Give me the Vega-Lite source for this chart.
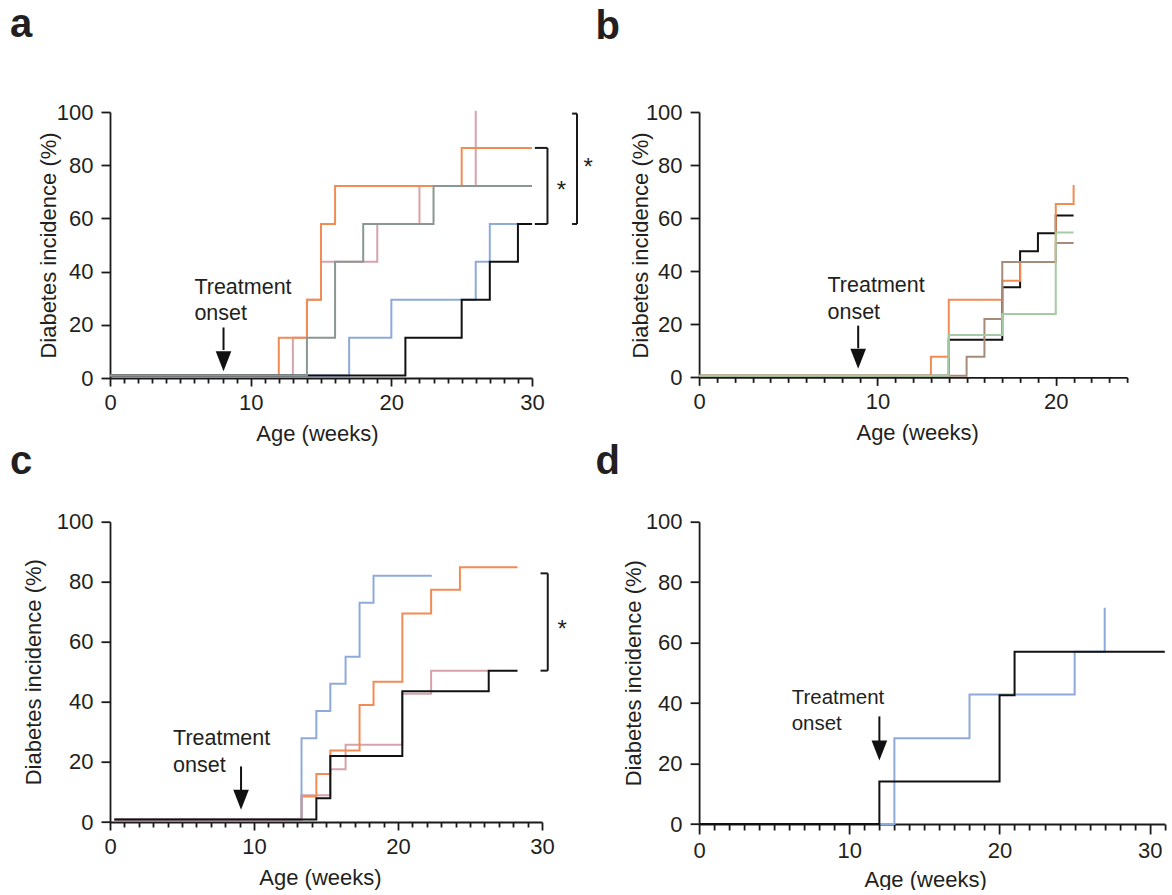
{
"$schema": "https://vega.github.io/schema/vega-lite/v6.json",
"background": "white",
"padding": {"left": 10, "top": 5, "right": 0, "bottom": 0},
"columns": 2,
"align": "each",
"bounds": "flush",
"spacing": {"row": 143.7, "column": 157.1},
"config": {
  "font": "Liberation Sans",
  "view": {"stroke": null},
  "axis": {"domainColor": "#1a1a1a", "domainWidth": 1.8, "tickColor": "#1a1a1a", "tickWidth": 1.8, "labelFont": "Liberation Sans", "labelFontSize": 22, "labelColor": "#231f20", "titleFont": "Liberation Sans", "titleFontSize": 22, "titleFontWeight": "normal", "titleColor": "#231f20", "grid": false, "labelFlush": false, "labelOverlap": false},
  "title": {"font": "Liberation Sans", "fontSize": 40, "fontWeight": "bold", "color": "#231f20", "anchor": "start", "frame": "group", "baseline": "alphabetic"}
},
"datasets": {
  "lines": [
    {"panel":"a","series":"pink","week":0,"pct":0.9},{"panel":"a","series":"pink","week":13,"pct":15.1},{"panel":"a","series":"pink","week":14,"pct":29.4},{"panel":"a","series":"pink","week":15,"pct":43.7},{"panel":"a","series":"pink","week":19,"pct":57.9},{"panel":"a","series":"pink","week":22,"pct":72.2},{"panel":"a","series":"pink","week":26,"pct":100.5},
    {"panel":"a","series":"orange","week":0,"pct":0.9},{"panel":"a","series":"orange","week":12,"pct":15.1},{"panel":"a","series":"orange","week":14,"pct":29.4},{"panel":"a","series":"orange","week":15,"pct":57.9},{"panel":"a","series":"orange","week":16,"pct":72.2},{"panel":"a","series":"orange","week":25,"pct":86.5},{"panel":"a","series":"orange","week":30,"pct":86.5},
    {"panel":"a","series":"blue","week":0,"pct":0.9},{"panel":"a","series":"blue","week":17,"pct":15.1},{"panel":"a","series":"blue","week":20,"pct":29.4},{"panel":"a","series":"blue","week":26,"pct":43.7},{"panel":"a","series":"blue","week":27,"pct":57.9},{"panel":"a","series":"blue","week":29,"pct":57.9},
    {"panel":"a","series":"black","week":0,"pct":0.9},{"panel":"a","series":"black","week":21,"pct":15.1},{"panel":"a","series":"black","week":25,"pct":29.4},{"panel":"a","series":"black","week":27,"pct":43.7},{"panel":"a","series":"black","week":29,"pct":57.9},{"panel":"a","series":"black","week":30,"pct":57.9},
    {"panel":"a","series":"gray","week":0,"pct":0.9},{"panel":"a","series":"gray","week":14,"pct":15.1},{"panel":"a","series":"gray","week":16,"pct":43.7},{"panel":"a","series":"gray","week":18,"pct":57.9},{"panel":"a","series":"gray","week":23,"pct":72.2},{"panel":"a","series":"gray","week":30,"pct":72.2},

    {"panel":"b","series":"black","week":0,"pct":0.6},{"panel":"b","series":"black","week":14,"pct":14.2},{"panel":"b","series":"black","week":17,"pct":34},{"panel":"b","series":"black","week":18,"pct":47.5},{"panel":"b","series":"black","week":19,"pct":54.3},{"panel":"b","series":"black","week":20,"pct":61},{"panel":"b","series":"black","week":21,"pct":61},
    {"panel":"b","series":"orange","week":0,"pct":0.6},{"panel":"b","series":"orange","week":13,"pct":7.8},{"panel":"b","series":"orange","week":14,"pct":29.3},{"panel":"b","series":"orange","week":17,"pct":36.4},{"panel":"b","series":"orange","week":18,"pct":43.5},{"panel":"b","series":"orange","week":20,"pct":65.3},{"panel":"b","series":"orange","week":21,"pct":72.5},
    {"panel":"b","series":"brown","week":0,"pct":0.6},{"panel":"b","series":"brown","week":15,"pct":7.8},{"panel":"b","series":"brown","week":16,"pct":22},{"panel":"b","series":"brown","week":17,"pct":43.5},{"panel":"b","series":"brown","week":20,"pct":50.6},{"panel":"b","series":"brown","week":21,"pct":50.6},
    {"panel":"b","series":"green","week":0,"pct":0.6},{"panel":"b","series":"green","week":14,"pct":16},{"panel":"b","series":"green","week":17,"pct":23.9},{"panel":"b","series":"green","week":20,"pct":54.6},{"panel":"b","series":"green","week":21,"pct":54.6},

    {"panel":"c","series":"pink","week":0.3,"pct":0.8},{"panel":"c","series":"pink","week":13.3,"pct":8.9},{"panel":"c","series":"pink","week":15.3,"pct":17.6},{"panel":"c","series":"pink","week":16.36,"pct":25.7},{"panel":"c","series":"pink","week":20.3,"pct":42.7},{"panel":"c","series":"pink","week":22.3,"pct":50.4},{"panel":"c","series":"pink","week":26.3,"pct":50.4},
    {"panel":"c","series":"orange","week":0.3,"pct":0.8},{"panel":"c","series":"orange","week":13.3,"pct":8.5},{"panel":"c","series":"orange","week":14.33,"pct":16},{"panel":"c","series":"orange","week":15.3,"pct":23.8},{"panel":"c","series":"orange","week":17.33,"pct":39},{"panel":"c","series":"orange","week":18.3,"pct":46.7},{"panel":"c","series":"orange","week":20.3,"pct":69.4},{"panel":"c","series":"orange","week":22.3,"pct":77.3},{"panel":"c","series":"orange","week":24.3,"pct":84.8},{"panel":"c","series":"orange","week":28.3,"pct":84.8},
    {"panel":"c","series":"blue","week":0.3,"pct":0.8},{"panel":"c","series":"blue","week":13.3,"pct":27.9},{"panel":"c","series":"blue","week":14.33,"pct":37},{"panel":"c","series":"blue","week":15.3,"pct":46},{"panel":"c","series":"blue","week":16.36,"pct":55},{"panel":"c","series":"blue","week":17.33,"pct":73},{"panel":"c","series":"blue","week":18.3,"pct":82},{"panel":"c","series":"blue","week":22.35,"pct":82},
    {"panel":"c","series":"black","week":0.3,"pct":0.8},{"panel":"c","series":"black","week":14.33,"pct":7.9},{"panel":"c","series":"black","week":15.3,"pct":22},{"panel":"c","series":"black","week":20.3,"pct":43.5},{"panel":"c","series":"black","week":26.3,"pct":50.4},{"panel":"c","series":"black","week":28.3,"pct":50.4},

    {"panel":"d","series":"blue","week":0,"pct":0},{"panel":"d","series":"blue","week":13,"pct":28.4},{"panel":"d","series":"blue","week":18,"pct":42.8},{"panel":"d","series":"blue","week":25,"pct":57},{"panel":"d","series":"blue","week":27,"pct":71.5},
    {"panel":"d","series":"black","week":0,"pct":0},{"panel":"d","series":"black","week":12,"pct":14.1},{"panel":"d","series":"black","week":20,"pct":42.6},{"panel":"d","series":"black","week":21,"pct":57},{"panel":"d","series":"black","week":31,"pct":57}
  ],
  "brackets": [
    {"panel":"a","week":31.1,"week2":31.1,"pct":57.9,"pct2":86.5},
    {"panel":"a","week":30.2,"week2":31.1,"pct":86.5,"pct2":86.5},
    {"panel":"a","week":30.2,"week2":31.1,"pct":57.9,"pct2":57.9},
    {"panel":"a","week":33.2,"week2":33.2,"pct":57.9,"pct2":99.4},
    {"panel":"a","week":32.85,"week2":33.2,"pct":99.4,"pct2":99.4},
    {"panel":"a","week":32.85,"week2":33.2,"pct":57.9,"pct2":57.9},
    {"panel":"c","week":30.4,"week2":30.4,"pct":50.4,"pct2":82.8},
    {"panel":"c","week":29.9,"week2":30.4,"pct":82.8,"pct2":82.8},
    {"panel":"c","week":29.9,"week2":30.4,"pct":50.4,"pct2":50.4}
  ],
  "stars": [
    {"panel":"a","week":32.1,"pct":67.5,"label":"*"},
    {"panel":"a","week":34.0,"pct":76.4,"label":"*"},
    {"panel":"c","week":31.4,"pct":61.7,"label":"*"}
  ],
  "notes": [
    {"panel":"a","week":6.0,"pct":31.6,"label":"Treatment"},
    {"panel":"a","week":6.0,"pct":21.7,"label":"onset"},
    {"panel":"b","week":7.2,"pct":32.2,"label":"Treatment"},
    {"panel":"b","week":7.2,"pct":22.1,"label":"onset"},
    {"panel":"c","week":4.38,"pct":25.7,"label":"Treatment"},
    {"panel":"c","week":4.38,"pct":16.8,"label":"onset"},
    {"panel":"d","week":6.16,"pct":39.7,"label":"Treatment"},
    {"panel":"d","week":6.16,"pct":31.0,"label":"onset"}
  ],
  "arrows": [
    {"panel":"a","week":8.07,"pct":19.0,"pct2":10.5,"tip":2.5},
    {"panel":"b","week":8.92,"pct":19.5,"pct2":11.0,"tip":3.3},
    {"panel":"c","week":9.1,"pct":18.5,"pct2":10.5,"tip":4.1},
    {"panel":"d","week":12.0,"pct":35.6,"pct2":27.0,"tip":21.0}
  ]
},
"concat": [
{
  "width": 422, "height": 266,
  "title": {"text": "a", "dx": -100, "offset": 56},
  "encoding": {
    "x": {"field": "week", "type": "quantitative", "scale": {"domain": [0, 30], "nice": false, "zero": false},
      "axis": {"values": [0,1,2,3,4,5,6,7,8,9,10,11,12,13,14,15,16,17,18,19,20,21,22,23,24,25,26,27,28,29,30], "labelExpr": "datum.value % 10 === 0 ? datum.label : ''", "tickSize": {"condition": {"test": "datum.value % 10 === 0", "value": 8}, "value": 5}, "labelPadding": 6, "title": "Age (weeks)", "titleX": 207, "titleY": 62, "titleBaseline": "alphabetic", "titleAlign": "center"}},
    "y": {"field": "pct", "type": "quantitative", "scale": {"domain": [0, 100], "nice": false},
      "axis": {"values": [0,20,40,60,80,100], "tickSize": 9, "labelPadding": 8, "title": "Diabetes incidence (%)", "titleX": -54.5, "titleY": 133, "titleBaseline": "alphabetic", "titleAlign": "center", "titleAngle": -90}}
  },
  "layer": [
    {"data": {"name": "lines"}, "transform": [{"filter": "datum.panel === 'a' && datum.series === 'pink'"}], "mark": {"type": "line", "interpolate": "step-after", "color": "#d6a3aa", "strokeWidth": 2, "clip": false}},
    {"data": {"name": "lines"}, "transform": [{"filter": "datum.panel === 'a' && datum.series === 'orange'"}], "mark": {"type": "line", "interpolate": "step-after", "color": "#f28c55", "strokeWidth": 2, "clip": false}},
    {"data": {"name": "lines"}, "transform": [{"filter": "datum.panel === 'a' && datum.series === 'blue'"}], "mark": {"type": "line", "interpolate": "step-after", "color": "#8eaadb", "strokeWidth": 2, "clip": false}},
    {"data": {"name": "lines"}, "transform": [{"filter": "datum.panel === 'a' && datum.series === 'black'"}], "mark": {"type": "line", "interpolate": "step-after", "color": "#111111", "strokeWidth": 2, "clip": false}},
    {"data": {"name": "lines"}, "transform": [{"filter": "datum.panel === 'a' && datum.series === 'gray'"}], "mark": {"type": "line", "interpolate": "step-after", "color": "#8a9893", "strokeWidth": 2, "clip": false}},
    {"data": {"name": "brackets"}, "transform": [{"filter": "datum.panel === 'a'"}], "mark": {"type": "rule", "color": "#1a1a1a", "strokeWidth": 2, "clip": false}, "encoding": {"x2": {"field": "week2"}, "y2": {"field": "pct2"}}},
    {"data": {"name": "stars"}, "transform": [{"filter": "datum.panel === 'a'"}], "mark": {"type": "text", "fontSize": 24, "align": "center", "baseline": "alphabetic", "color": "#231f20"}, "encoding": {"text": {"field": "label"}}},
    {"data": {"name": "notes"}, "transform": [{"filter": "datum.panel === 'a'"}], "mark": {"type": "text", "fontSize": 21.5, "align": "left", "baseline": "alphabetic", "color": "#231f20"}, "encoding": {"text": {"field": "label"}}},
    {"data": {"name": "arrows"}, "transform": [{"filter": "datum.panel === 'a'"}], "mark": {"type": "rule", "color": "#111111", "strokeWidth": 2}, "encoding": {"y2": {"field": "pct2"}}},
    {"data": {"name": "arrows"}, "transform": [{"filter": "datum.panel === 'a'"}], "mark": {"type": "point", "shape": "M-0.78,-2L0.78,-2L0,0Z", "filled": true, "size": 400, "color": "#111111", "opacity": 1}, "encoding": {"y": {"field": "tip", "type": "quantitative"}}}
  ]
},
{
  "width": 428, "height": 265.4,
  "title": {"text": "b", "dx": -103.6, "offset": 54},
  "encoding": {
    "x": {"field": "week", "type": "quantitative", "scale": {"domain": [0, 24], "nice": false, "zero": false},
      "axis": {"values": [0,1,2,3,4,5,6,7,8,9,10,11,12,13,14,15,16,17,18,19,20,21,22,23,24], "labelExpr": "datum.value % 10 === 0 ? datum.label : ''", "tickSize": {"condition": {"test": "datum.value % 10 === 0", "value": 8}, "value": 5}, "labelPadding": 6, "title": "Age (weeks)", "titleX": 218, "titleY": 62, "titleBaseline": "alphabetic", "titleAlign": "center"}},
    "y": {"field": "pct", "type": "quantitative", "scale": {"domain": [0, 100], "nice": false},
      "axis": {"values": [0,20,40,60,80,100], "tickSize": 9, "labelPadding": 8, "title": "Diabetes incidence (%)", "titleX": -51.6, "titleY": 133, "titleBaseline": "alphabetic", "titleAlign": "center", "titleAngle": -90}}
  },
  "layer": [
    {"data": {"name": "lines"}, "transform": [{"filter": "datum.panel === 'b' && datum.series === 'black'"}], "mark": {"type": "line", "interpolate": "step-after", "color": "#111111", "strokeWidth": 2, "clip": false}},
    {"data": {"name": "lines"}, "transform": [{"filter": "datum.panel === 'b' && datum.series === 'orange'"}], "mark": {"type": "line", "interpolate": "step-after", "color": "#f28c55", "strokeWidth": 2, "clip": false}},
    {"data": {"name": "lines"}, "transform": [{"filter": "datum.panel === 'b' && datum.series === 'brown'"}], "mark": {"type": "line", "interpolate": "step-after", "color": "#a68b7a", "strokeWidth": 2, "clip": false}},
    {"data": {"name": "lines"}, "transform": [{"filter": "datum.panel === 'b' && datum.series === 'green'"}], "mark": {"type": "line", "interpolate": "step-after", "color": "#a5caa5", "strokeWidth": 2, "clip": false}},
    {"data": {"name": "notes"}, "transform": [{"filter": "datum.panel === 'b'"}], "mark": {"type": "text", "fontSize": 21.5, "align": "left", "baseline": "alphabetic", "color": "#231f20"}, "encoding": {"text": {"field": "label"}}},
    {"data": {"name": "arrows"}, "transform": [{"filter": "datum.panel === 'b'"}], "mark": {"type": "rule", "color": "#111111", "strokeWidth": 2}, "encoding": {"y2": {"field": "pct2"}}},
    {"data": {"name": "arrows"}, "transform": [{"filter": "datum.panel === 'b'"}], "mark": {"type": "point", "shape": "M-0.78,-2L0.78,-2L0,0Z", "filled": true, "size": 400, "color": "#111111", "opacity": 1}, "encoding": {"y": {"field": "tip", "type": "quantitative"}}}
  ]
},
{
  "width": 432, "height": 300.3,
  "title": {"text": "c", "dx": -100, "offset": 29},
  "encoding": {
    "x": {"field": "week", "type": "quantitative", "scale": {"domain": [0, 30], "nice": false, "zero": false},
      "axis": {"values": [0,1,2,3,4,5,6,7,8,9,10,11,12,13,14,15,16,17,18,19,20,21,22,23,24,25,26,27,28,29,30], "labelExpr": "datum.value % 10 === 0 ? datum.label : ''", "tickSize": {"condition": {"test": "datum.value % 10 === 0", "value": 8}, "value": 5}, "labelPadding": 6, "title": "Age (weeks)", "titleX": 210, "titleY": 62, "titleBaseline": "alphabetic", "titleAlign": "center"}},
    "y": {"field": "pct", "type": "quantitative", "scale": {"domain": [0, 100], "nice": false},
      "axis": {"values": [0,20,40,60,80,100], "tickSize": 9, "labelPadding": 8, "title": "Diabetes incidence (%)", "titleX": -69.5, "titleY": 150, "titleBaseline": "alphabetic", "titleAlign": "center", "titleAngle": -90}}
  },
  "layer": [
    {"data": {"name": "lines"}, "transform": [{"filter": "datum.panel === 'c' && datum.series === 'pink'"}], "mark": {"type": "line", "interpolate": "step-after", "color": "#d6a3aa", "strokeWidth": 2, "clip": false}},
    {"data": {"name": "lines"}, "transform": [{"filter": "datum.panel === 'c' && datum.series === 'orange'"}], "mark": {"type": "line", "interpolate": "step-after", "color": "#f28c55", "strokeWidth": 2, "clip": false}},
    {"data": {"name": "lines"}, "transform": [{"filter": "datum.panel === 'c' && datum.series === 'blue'"}], "mark": {"type": "line", "interpolate": "step-after", "color": "#8eaadb", "strokeWidth": 2, "clip": false}},
    {"data": {"name": "lines"}, "transform": [{"filter": "datum.panel === 'c' && datum.series === 'black'"}], "mark": {"type": "line", "interpolate": "step-after", "color": "#111111", "strokeWidth": 2, "clip": false}},
    {"data": {"name": "brackets"}, "transform": [{"filter": "datum.panel === 'c'"}], "mark": {"type": "rule", "color": "#1a1a1a", "strokeWidth": 2, "clip": false}, "encoding": {"x2": {"field": "week2"}, "y2": {"field": "pct2"}}},
    {"data": {"name": "stars"}, "transform": [{"filter": "datum.panel === 'c'"}], "mark": {"type": "text", "fontSize": 24, "align": "center", "baseline": "alphabetic", "color": "#231f20"}, "encoding": {"text": {"field": "label"}}},
    {"data": {"name": "notes"}, "transform": [{"filter": "datum.panel === 'c'"}], "mark": {"type": "text", "fontSize": 21.5, "align": "left", "baseline": "alphabetic", "color": "#231f20"}, "encoding": {"text": {"field": "label"}}},
    {"data": {"name": "arrows"}, "transform": [{"filter": "datum.panel === 'c'"}], "mark": {"type": "rule", "color": "#111111", "strokeWidth": 2}, "encoding": {"y2": {"field": "pct2"}}},
    {"data": {"name": "arrows"}, "transform": [{"filter": "datum.panel === 'c'"}], "mark": {"type": "point", "shape": "M-0.78,-2L0.78,-2L0,0Z", "filled": true, "size": 400, "color": "#111111", "opacity": 1}, "encoding": {"y": {"field": "tip", "type": "quantitative"}}}
  ]
},
{
  "width": 465.7, "height": 302.3,
  "title": {"text": "d", "dx": -103.6, "offset": 29},
  "encoding": {
    "x": {"field": "week", "type": "quantitative", "scale": {"domain": [0, 31], "nice": false, "zero": false},
      "axis": {"values": [0,1,2,3,4,5,6,7,8,9,10,11,12,13,14,15,16,17,18,19,20,21,22,23,24,25,26,27,28,29,30,31], "labelExpr": "datum.value % 10 === 0 ? datum.label : ''", "tickSize": {"condition": {"test": "datum.value % 10 === 0", "value": 10}, "value": 6}, "labelPadding": 6, "title": "Age (weeks)", "titleX": 226, "titleY": 62, "titleBaseline": "alphabetic", "titleAlign": "center"}},
    "y": {"field": "pct", "type": "quantitative", "scale": {"domain": [0, 100], "nice": false},
      "axis": {"values": [0,20,40,60,80,100], "tickSize": 9, "labelPadding": 8, "title": "Diabetes incidence (%)", "titleX": -58.6, "titleY": 151, "titleBaseline": "alphabetic", "titleAlign": "center", "titleAngle": -90}}
  },
  "layer": [
    {"data": {"name": "lines"}, "transform": [{"filter": "datum.panel === 'd' && datum.series === 'blue'"}], "mark": {"type": "line", "interpolate": "step-after", "color": "#8eaadb", "strokeWidth": 2, "clip": false}},
    {"data": {"name": "lines"}, "transform": [{"filter": "datum.panel === 'd' && datum.series === 'black'"}], "mark": {"type": "line", "interpolate": "step-after", "color": "#111111", "strokeWidth": 2, "clip": false}},
    {"data": {"name": "notes"}, "transform": [{"filter": "datum.panel === 'd'"}], "mark": {"type": "text", "fontSize": 20.5, "align": "left", "baseline": "alphabetic", "color": "#231f20"}, "encoding": {"text": {"field": "label"}}},
    {"data": {"name": "arrows"}, "transform": [{"filter": "datum.panel === 'd'"}], "mark": {"type": "rule", "color": "#111111", "strokeWidth": 2}, "encoding": {"y2": {"field": "pct2"}}},
    {"data": {"name": "arrows"}, "transform": [{"filter": "datum.panel === 'd'"}], "mark": {"type": "point", "shape": "M-0.78,-2L0.78,-2L0,0Z", "filled": true, "size": 400, "color": "#111111", "opacity": 1}, "encoding": {"y": {"field": "tip", "type": "quantitative"}}}
  ]
}
]
}
